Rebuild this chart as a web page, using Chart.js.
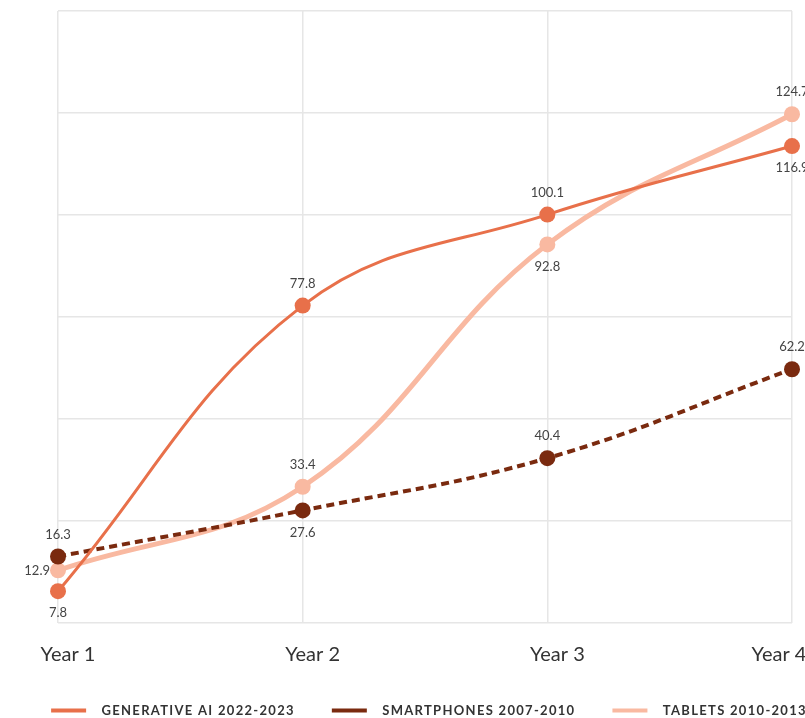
<!DOCTYPE html>
<html>
<head>
<meta charset="utf-8">
<script src="https://cdn.jsdelivr.net/npm/chart.js@4.4.1/dist/chart.umd.min.js"></script>
<style>
html,body{margin:0;padding:0;background:#fff;overflow:hidden;}
#wrap{width:858px;height:727px;}
</style>
</head>
<body>
<div id="wrap"><canvas id="growthChart" width="858" height="727"></canvas></div>
<script>
// data
const labels = ['Year 1', 'Year 2', 'Year 3', 'Year 4'];
const genAI = [7.8, 77.8, 100.1, 116.9];
const smartphones = [16.3, 27.6, 40.4, 62.2];
const tablets = [12.9, 33.4, 92.8, 124.7];
const yMin = 0;
const yMax = 150;
const yStep = 25;

// value labels next to each point
const pointLabels = {
  id: 'pointLabels',
  afterDatasetsDraw(chart){
    const ctx = chart.ctx;
    ctx.save();
    ctx.font = '13px Lato';
    ctx.fillStyle = '#444';
    ctx.letterSpacing = '0px';
    chart.data.datasets.forEach((ds, i) => {
      const meta = chart.getDatasetMeta(i);
      meta.data.forEach((pt, j) => {
        const pos = ds.labelPos[j];
        const txt = ds.data[j].toFixed(1);
        ctx.textBaseline = 'middle';
        if(pos === 'left'){
          ctx.textAlign = 'right';
          ctx.fillText(txt, pt.x - 8, pt.y);
        } else {
          ctx.textAlign = 'center';
          ctx.fillText(txt, pt.x, pos === 'above' ? pt.y - 22 : pt.y + 22);
        }
      });
    });
    ctx.restore();
  }
};

// spaced out legend text, last x label pulled in a bit
const legendSpacing = {
  id: 'legendSpacing',
  beforeLayout(chart){ chart.ctx.letterSpacing = '1.3px'; },
  afterLayout(chart){ chart.ctx.letterSpacing = '0px'; },
  beforeDraw(chart){
    const lg = chart.legend;
    if(lg && !lg._spaced){
      const draw = lg.draw.bind(lg);
      lg.draw = function(){
        chart.ctx.letterSpacing = '1.3px';
        draw();
        chart.ctx.letterSpacing = '0px';
      };
      lg._spaced = true;
    }
    const items = chart.scales.x.getLabelItems();
    const last = items[items.length - 1];
    if(last && !last._moved){
      last.options.translation[0] -= 23;
      last._moved = true;
    }
  }
};

const ctx = document.getElementById('growthChart').getContext('2d');
const growthChart = new Chart(ctx, {
  type: 'line',
  data: {
    labels: labels,
    datasets: [{
      label: 'GENERATIVE AI 2022-2023',
      data: genAI,
      borderColor: '#e8704a',
      backgroundColor: '#e8704a',
      borderWidth: 3,
      pointRadius: 8,
      pointBorderWidth: 0,
      tension: 0.4,
      labelPos: ['below', 'above', 'above', 'below']
    }, {
      label: 'SMARTPHONES 2007-2010',
      data: smartphones,
      borderColor: '#7a2a0f',
      backgroundColor: '#7a2a0f',
      borderWidth: 4,
      borderDash: [8, 5],
      pointRadius: 8,
      pointBorderWidth: 0,
      tension: 0.4,
      labelPos: ['above', 'below', 'above', 'above']
    }, {
      label: 'TABLETS 2010-2013',
      data: tablets,
      borderColor: '#f9b9a1',
      backgroundColor: '#f9b9a1',
      borderWidth: 5,
      pointRadius: 8,
      pointBorderWidth: 0,
      tension: 0.4,
      labelPos: ['left', 'above', 'below', 'above']
    }]
  },
  options: {
    responsive: false,
    animation: false,
    layout: { padding: { top: 11, left: 0, right: 0, bottom: 0 } },
    plugins: {
      legend: {
        position: 'bottom',
        labels: {
          usePointStyle: true,
          pointStyle: 'line',
          pointStyleWidth: 35,
          padding: 37,
          color: '#333',
          font: { family: 'Lato', size: 13, weight: 'bold' },
          generateLabels(chart){
            const items = Chart.defaults.plugins.legend.labels.generateLabels(chart);
            items.forEach(it => {
              it.text = '  ' + it.text;
              it.lineWidth = 4;
              if(it.lineDash && it.lineDash.length) it.lineDash = [5, 4];
            });
            return items;
          }
        }
      },
      tooltip: { enabled: false }
    },
    scales: {
      x: {
        grid: { color: '#e6e6e6', lineWidth: 1.5, drawTicks: false },
        border: { display: false },
        ticks: { color: '#333', padding: 20, labelOffset: 10, font: { family: 'Lato', size: 20 } },
        afterFit(scale){ scale.height = 44; }
      },
      y: {
        min: yMin,
        max: yMax,
        ticks: { display: false, stepSize: yStep },
        grid: { color: '#e6e6e6', lineWidth: 1.5, drawTicks: false },
        border: { display: false },
        afterFit(scale){ scale.width = 58; }
      },
      y2: {
        position: 'right',
        min: yMin,
        max: yMax,
        ticks: { display: false },
        grid: { display: false },
        border: { display: false },
        afterFit(scale){ scale.width = 66; }
      }
    }
  },
  plugins: [pointLabels, legendSpacing]
});
</script>
</body>
</html>
